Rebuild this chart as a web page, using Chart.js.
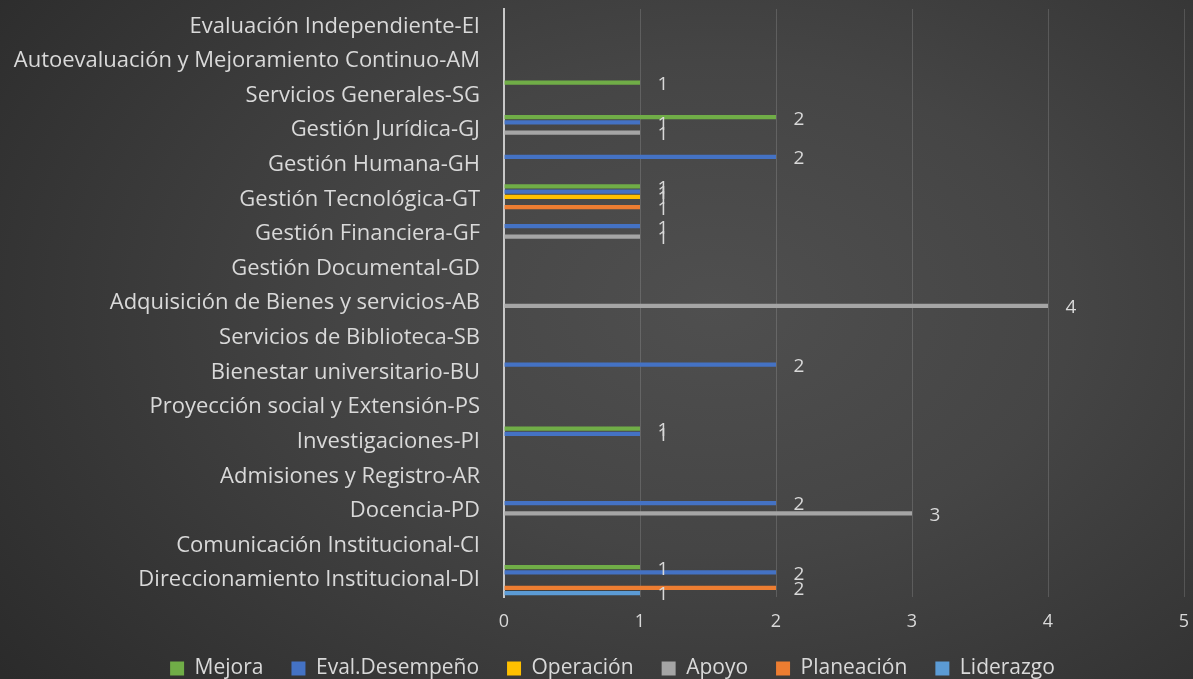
<!DOCTYPE html>
<html>
<head>
<meta charset="utf-8">
<script src="https://cdn.jsdelivr.net/npm/chart.js@4/dist/chart.umd.min.js"></script>
<style>
    html, body {
        margin: 0;
        padding: 0;
        width: 1193px;
        height: 679px;
        overflow: hidden;
    }
    body {
        background: radial-gradient(ellipse 75% 90% at 60% 45%, #4f4f4f 0%, #454545 40%, #2b2b2b 100%);
    }
    #wrap {
        position: absolute;
        left: 0;
        top: 0;
        width: 1193px;
        height: 679px;
    }
</style>
</head>
<body>
<div id="wrap"><canvas id="procesosChart" width="1193" height="679"></canvas></div>
<script>
// categories listed bottom to top, as in the original sheet
const categories = [
    'Direccionamiento Institucional-DI',
    'Comunicación Institucional-CI',
    'Docencia-PD',
    'Admisiones y Registro-AR',
    'Investigaciones-PI',
    'Proyección social y Extensión-PS',
    'Bienestar universitario-BU',
    'Servicios de Biblioteca-SB',
    'Adquisición de Bienes y servicios-AB',
    'Gestión Documental-GD',
    'Gestión Financiera-GF',
    'Gestión Tecnológica-GT',
    'Gestión Humana-GH',
    'Gestión Jurídica-GJ',
    'Servicios Generales-SG',
    'Autoevaluación y Mejoramiento Continuo-AM',
    'Evaluación Independiente-EI'
];

const mejora        = [1, null, null, null, 1, null, null, null, null, null, null, 1, null, 2, 1, null, null];
const evalDesempeno = [2, null, 2, null, 1, null, 2, null, null, null, 1, 1, 2, 1, null, null, null];
const operacion     = [null, null, null, null, null, null, null, null, null, null, null, 1, null, null, null, null, null];
const apoyo         = [null, null, 3, null, null, null, null, null, 4, null, 1, null, null, 1, null, null, null];
const planeacion    = [2, null, null, null, null, null, null, null, null, null, null, 1, null, null, null, null, null];
const liderazgo     = [1, null, null, null, null, null, null, null, null, null, null, null, null, null, null, null, null];

const xTicks = [0, 1, 2, 3, 4, 5];

const FONT = '"Open Sans", "Noto Sans", sans-serif';

// draws the value next to the end of each bar
const valueLabels = {
    id: 'valueLabels',
    afterDatasetsDraw(chart) {
        let ctx = chart.ctx;
        ctx.save();
        ctx.font = '19px ' + FONT;
        ctx.fillStyle = '#d9d9d9';
        ctx.textAlign = 'center';
        ctx.textBaseline = 'middle';
        chart.data.datasets.forEach((ds, i) => {
            let meta = chart.getDatasetMeta(i);
            meta.data.forEach((bar, j) => {
                let v = ds.data[j];
                if (v == null) return;
                ctx.fillText(String(v), bar.x + 23, bar.y + 2);
            });
        });
        ctx.restore();
    }
};

// legend sits a bit higher (and further right) than the layout puts it
const moveLegend = {
    id: 'moveLegend',
    afterLayout(chart) {
        if (chart.legend) {
            chart.legend.top -= 17;
            chart.legend.bottom -= 17;
            chart.legend.left += 14;
            chart.legend.right += 14;
        }
    }
};

function makeSet(label, data, color) {
    return {
        label: label,
        data: data,
        backgroundColor: color,
        borderWidth: 0,
        categoryPercentage: 0.9,
        barPercentage: 0.82
    };
}

const ctx = document.getElementById('procesosChart').getContext('2d');
const procesosChart = new Chart(ctx, {
    type: 'bar',
    data: {
        labels: categories,
        datasets: [
            makeSet('Mejora', mejora, '#70ad47'),
            makeSet('Eval.Desempeño', evalDesempeno, '#4472c4'),
            makeSet('Operación', operacion, '#ffc000'),
            makeSet('Apoyo', apoyo, '#a5a5a5'),
            makeSet('Planeación', planeacion, '#ed7d31'),
            makeSet('Liderazgo', liderazgo, '#5b9bd5')
        ]
    },
    options: {
        indexAxis: 'y',
        responsive: false,
        animation: false,
        layout: {
            padding: { left: 4, right: 0, top: 9, bottom: -27 }
        },
        scales: {
            x: {
                min: 0,
                max: 5,
                afterBuildTicks: axis => { axis.ticks = xTicks.map(v => ({ value: v })); },
                afterFit: axis => {
                    axis.paddingRight = 9;
                },
                grid: { color: 'rgba(255,255,255,0.15)', lineWidth: 1, drawTicks: false },
                border: { display: false },
                ticks: {
                    color: '#d9d9d9',
                    font: { family: FONT, size: 18 },
                    padding: 14
                }
            },
            y: {
                reverse: true,
                afterFit: axis => {
                    axis.width = 500;
                    axis.paddingTop = 0;
                    axis.paddingBottom = 0;
                },
                grid: { display: false, drawTicks: false },
                border: { display: true, color: '#c8c8c8', width: 2 },
                ticks: {
                    color: '#d9d9d9',
                    font: { family: FONT, size: 22 },
                    padding: 24,
                    autoSkip: false
                }
            }
        },
        plugins: {
            legend: {
                position: 'bottom',
                labels: {
                    color: '#d9d9d9',
                    font: { family: FONT, size: 21 },
                    boxWidth: 14,
                    boxHeight: 14,
                    padding: 28
                }
            },
            tooltip: { enabled: false }
        }
    },
    plugins: [valueLabels, moveLegend]
});
</script>
</body>
</html>
